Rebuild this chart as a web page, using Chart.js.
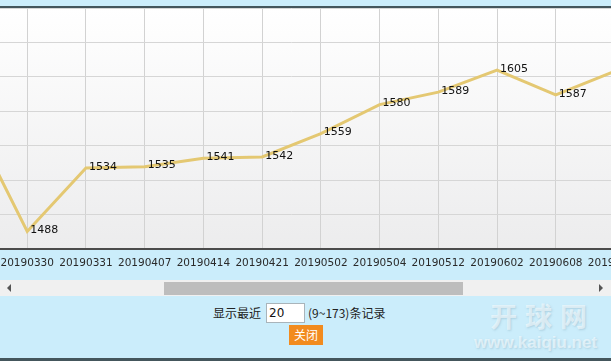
<!DOCTYPE html>
<html>
<head>
<meta charset="utf-8">
<script src="https://cdn.jsdelivr.net/npm/chart.js@4"></script>
<style>
  html, body { margin: 0; padding: 0; }
  body { width: 611px; height: 361px; background: #cbedfb; position: relative; overflow: hidden; font-family: "Noto Sans CJK SC", sans-serif; }
  #topline { position: absolute; left: 0; top: 6px; width: 611px; height: 2px; background: #44565c; }
  #wrap { position: absolute; left: 0; top: 8px; width: 611px; height: 270px; overflow: hidden; }
  #rating-chart { position: absolute; left: -66px; top: 0; }
  #scroll { position: absolute; left: 0; top: 280px; width: 611px; height: 16px; background: #f0f0f0; }
  #thumb { position: absolute; left: 164px; top: 2px; width: 299px; height: 13px; background: #bdbdbd; }
  .arr { position: absolute; top: 4px; width: 0; height: 0; border-top: 4px solid transparent; border-bottom: 4px solid transparent; }
  #arrL { left: 7px; border-right: 4px solid #555; }
  #arrR { left: 599px; border-left: 4px solid #555; }
  .txt { position: absolute; font-size: 12px; color: #222; line-height: 16px; }
  #box { position: absolute; left: 266px; top: 303px; width: 39px; height: 20px; background: #fff; border: 1px solid #a9b4ba; box-sizing: border-box; font: 12px "DejaVu Sans", sans-serif; line-height: 18px; padding-left: 2px; color: #111; }
  #btn { position: absolute; left: 289px; top: 325px; width: 34px; height: 20px; background: #f28b1e; color: #fff; font-size: 12px; line-height: 20px; text-align: center; }
  #bottomline { position: absolute; left: 0; top: 358px; width: 611px; height: 3px; background: #44565c; }
  .wm { position: absolute; color: rgba(255,255,255,0.55); font-weight: bold; text-shadow: 1px 1px 2px rgba(120,160,180,0.35); }
</style>
</head>
<body>
<div id="topline"></div>
<div id="wrap"><canvas id="rating-chart" width="715" height="270"></canvas></div>
<div id="scroll"><div class="arr" id="arrL"></div><div id="thumb"></div><div class="arr" id="arrR"></div></div>
<div class="txt" style="left:213px; top:305px;">显示最近</div>
<div id="box">20</div>
<div class="txt" style="left:308px; top:305px;">(9~173)条记录</div>
<div id="btn">关闭</div>
<div class="wm" style="left:490px; top:296px; font-size:27px; letter-spacing:8px;">开球网</div>
<div class="wm" style="left:474px; top:333px; font-size:17px; font-family:'Liberation Sans', sans-serif;">www.kaiqiu.net</div>
<div id="bottomline"></div>

<script>
// dates / ratings (first and last points sit just outside the visible window)
const dates = ['20190323', '20190330', '20190331', '20190407', '20190414', '20190421',
               '20190502', '20190504', '20190512', '20190602', '20190608', '20190615'];
const ratings = [1573, 1488, 1534, 1535, 1541, 1542, 1559, 1580, 1589, 1605, 1587, 1604];
const yMin = 1475, yMax = 1650, yStep = 25;

// plot background gradient
const plotBg = {
  id: 'plotBg',
  beforeDraw(chart) {
    const { ctx, chartArea: a } = chart;
    const g = ctx.createLinearGradient(0, a.top, 0, a.bottom);
    g.addColorStop(0, '#ffffff');
    g.addColorStop(1, '#ececed');
    ctx.save();
    ctx.fillStyle = g;
    ctx.fillRect(0, a.top, chart.width, a.bottom - a.top);
    ctx.restore();
  }
};

// value labels to the right of each point
const valueLabels = {
  id: 'valueLabels',
  afterDatasetsDraw(chart) {
    const { ctx } = chart;
    const meta = chart.getDatasetMeta(0);
    ctx.save();
    ctx.font = '11px "DejaVu Sans"';
    ctx.fillStyle = '#111';
    ctx.textBaseline = 'middle';
    ctx.textAlign = 'left';
    meta.data.forEach((pt, i) => {
      ctx.fillText(String(ratings[i]), pt.x + 3, pt.y - 1);
    });
    ctx.restore();
  }
};

new Chart(document.getElementById('rating-chart'), {
  type: 'line',
  data: {
    labels: dates,
    datasets: [{
      data: ratings,
      borderColor: '#e4c872',
      borderWidth: 3,
      pointRadius: 0,
      tension: 0,
      fill: false
    }]
  },
  options: {
    responsive: false,
    animation: false,
    devicePixelRatio: 1,
    layout: { padding: 0 },
    scales: {
      x: {
        offset: true,
        grid: { color: '#d2d2d2', drawTicks: false, offset: false },
        border: { color: '#4b4b4b', width: 2 },
        ticks: { color: '#2a2a2a', font: { family: 'DejaVu Sans', size: 10.5 }, padding: 8, autoSkip: false, maxRotation: 0 }
      },
      y: {
        min: yMin, max: yMax,
        grid: { color: '#d6d6d6', drawTicks: false },
        border: { display: false },
        ticks: { display: false, stepSize: yStep }
      }
    },
    plugins: { legend: { display: false }, tooltip: { enabled: false } }
  },
  plugins: [plotBg, valueLabels]
});
</script>
</body>
</html>
